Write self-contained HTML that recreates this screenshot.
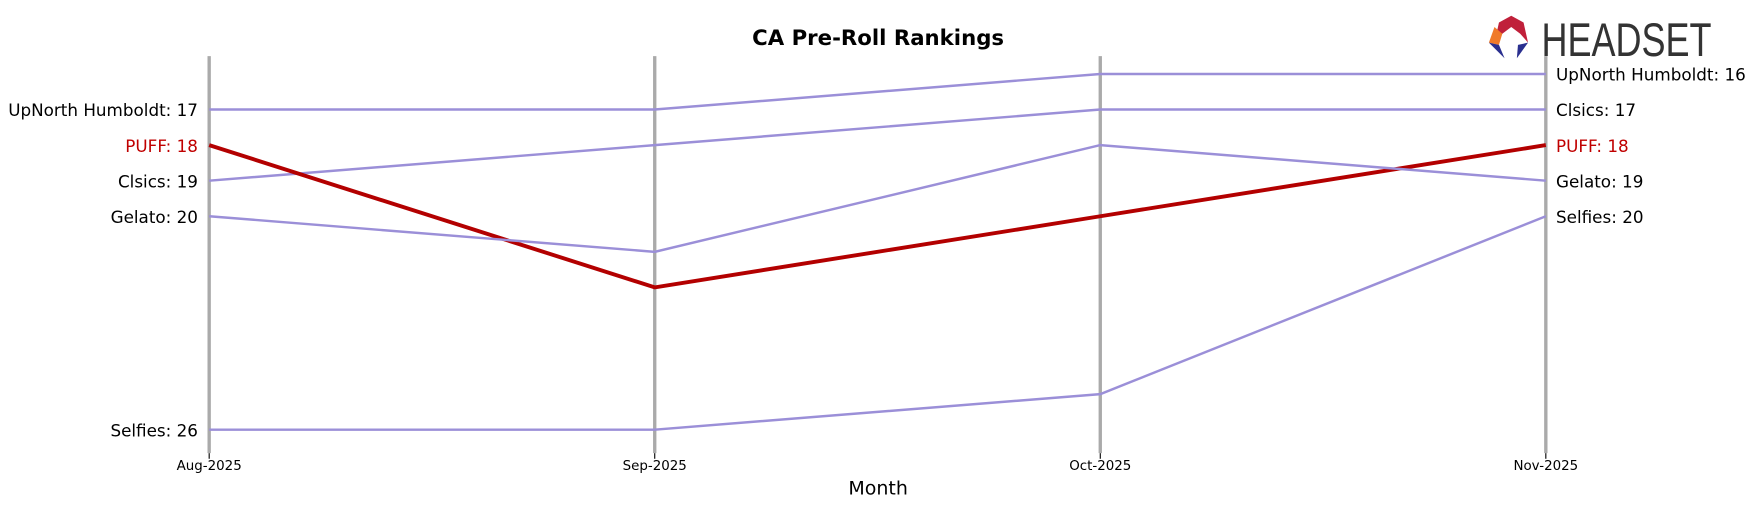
<!DOCTYPE html>
<html><head><meta charset="utf-8"><style>
body{margin:0;background:#fff;}
svg{display:block;font-family:"DejaVu Sans","Liberation Sans",sans-serif;}
</style></head><body>
<svg id="chart" width="1754" height="507" viewBox="0 0 1568 453">
<text x="785" y="40" text-anchor="middle" font-size="19" font-weight="bold">CA Pre-Roll Rankings</text>
<g>
<polygon points="1351,14 1362,20 1366,38 1359,30 1351,24 1343,30 1336,38 1340,20" fill="#c0203a"/>
<polygon points="1336,24 1343,30 1340,40 1331,38" fill="#f07a2a"/>
<polygon points="1331,38 1340,40 1345,52" fill="#2a2f8f"/>
<polygon points="1366,38 1357,40 1356,52" fill="#2a2f8f"/>
<text x="1378" y="50" font-size="42" fill="#333" font-family="Liberation Sans Narrow,Liberation Sans,sans-serif" textLength="152" lengthAdjust="spacingAndGlyphs">HEADSET</text>
</g>
<g id="axes"></g>
<g id="lines"></g>
<text x="785" y="442" text-anchor="middle" font-size="17">Month</text>
</svg>
<script>
const months=["Aug-2025","Sep-2025","Oct-2025","Nov-2025"];
const names=["UpNorth Humboldt","Clsics","PUFF","Gelato","Selfies"];
const upnorth=[17,17,16,16];
const clsics=[19,18,17,17];
const puff=[18,22,20,18];
const gelato=[20,21,18,19];
const selfies=[26,26,25,20];
const series=[upnorth,clsics,puff,gelato,selfies];
const NS="http://www.w3.org/2000/svg";
const x=i=>187+i*398.3;
const y=r=>66+(r-16)*31.8;
const ax=document.getElementById('axes'),ln=document.getElementById('lines');
function mk(t,a,p){const e=document.createElementNS(NS,t);for(const k in a)e.setAttribute(k,a[k]);p.appendChild(e);return e;}
months.forEach((m,i)=>{
 const l=mk('line',{x1:x(i),x2:x(i),y1:50,y2:405,stroke:'#aaa','stroke-width':3},ax);
 
 
 const tk=mk('line',{x1:x(i),x2:x(i),y1:405,y2:410,stroke:'#000'},ax);
 
 
 const t=mk('text',{x:x(i),y:420,'text-anchor':'middle','font-size':12},ax);t.textContent=m;
 
 
});
series.forEach((s,k)=>{
 const hi=names[k]==="PUFF";
 const col=hi?'#b30000':'#9b8fd8';
 const p=mk('polyline',{points:s.map((v,i)=>x(i)+','+y(v)).join(' '),fill:'none',stroke:col,'stroke-width':hi?3.5:2.2},ln);
 
 
 const a=mk('text',{x:177,y:y(s[0])+6,'text-anchor':'end','font-size':15,fill:hi?'#c00000':'#000'},ln);a.textContent=names[k]+': '+s[0];
 
 
 const b=mk('text',{x:1391,y:y(s[3])+6,'font-size':15,fill:hi?'#c00000':'#000'},ln);b.textContent=names[k]+': '+s[3];
 
 
});
</script>
</body></html>
